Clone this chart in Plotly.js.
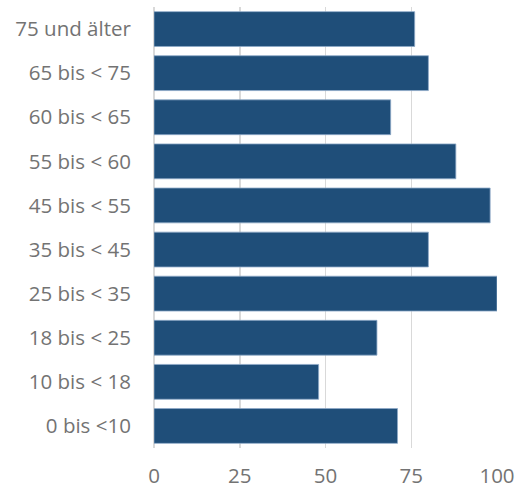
<!DOCTYPE html>
<html>
<head>
<meta charset="utf-8">
<script src="https://cdn.plot.ly/plotly-3.0.1.min.js"></script>
<style>html,body{margin:0;padding:0;background:#fff;}#chart{width:524px;height:489px;}</style>
</head>
<body>
<div id="chart"></div>
<script>
const categories = ["0 bis <10", "10 bis < 18", "18 bis < 25", "25 bis < 35", "35 bis < 45", "45 bis < 55", "55 bis < 60", "60 bis < 65", "65 bis < 75", "75 und älter"];
const values = [71, 48, 65, 100, 80, 98, 88, 69, 80, 76];
const xTicks = [0, 25, 50, 75, 100];

Plotly.newPlot("chart", [{
  type: "bar",
  orientation: "h",
  y: categories,
  x: values,
  marker: {color: "#1F4E79", line: {color: "#8EA9C8", width: 0.8}},
  hoverinfo: "none"
}], {
  width: 524, height: 489,
  margin: {l: 154, r: 27, t: 7, b: 41},
  paper_bgcolor: "#fff", plot_bgcolor: "#fff",
  bargap: 0.21,
  showlegend: false,
  font: {family: "Open Sans", size: 20.5, color: "#737373"},
  xaxis: {
    range: [0, 100], tickvals: xTicks, ticktext: xTicks.map(String),
    showgrid: true, gridcolor: "#D9D9D9", gridwidth: 1.5,
    zeroline: true, zerolinecolor: "#D9D9D9", zerolinewidth: 1.5,
    showline: false, ticks: "outside", ticklen: 9, tickcolor: "rgba(0,0,0,0)",
    fixedrange: true
  },
  yaxis: {
    type: "category", categoryorder: "array", categoryarray: categories,
    showgrid: false, showline: false, zeroline: false,
    ticks: "outside", ticklen: 18, tickcolor: "rgba(0,0,0,0)",
    fixedrange: true
  }
}, {displayModeBar: false, staticPlot: true});
</script>
</body>
</html>
